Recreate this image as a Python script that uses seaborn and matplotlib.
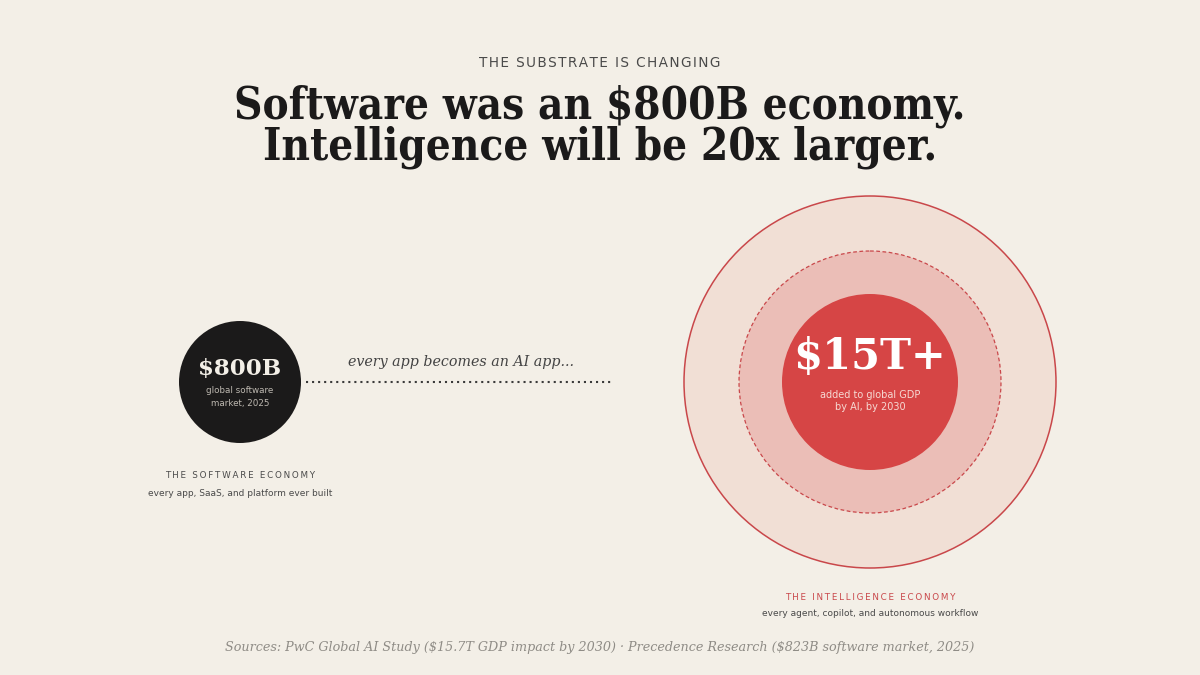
import matplotlib.pyplot as plt
import seaborn as sns
from matplotlib.patches import Circle

# values shown on the chart
economies = ["software", "intelligence"]
headline_values = ["$800B", "$15T+"]
value_notes = ["global software\nmarket, 2025", "added to global GDP\nby AI, by 2030"]
economy_labels = ["THE SOFTWARE ECONOMY", "THE INTELLIGENCE ECONOMY"]
economy_subs = ["every app, SaaS, and platform ever built",
                "every agent, copilot, and autonomous workflow"]
kicker = "THE SUBSTRATE IS CHANGING"
title_lines = ["Software was an $800B economy.", "Intelligence will be 20x larger."]
bridge_text = "every app becomes an AI app..."
source_text = ("Sources: PwC Global AI Study ($15.7T GDP impact by 2030) \u00b7 "
               "Precedence Research ($823B software market, 2025)")

BG = "#F3EFE7"
INK = "#1B1A1A"
RED = "#D64545"
RED_LINE = "#C9474A"

sns.set_theme(style="white")
plt.rcParams["font.family"] = ["DejaVu Sans"]
plt.rcParams["text.parse_math"] = False

fig = plt.figure(figsize=(12, 6.75), dpi=100, facecolor=BG)
ax = fig.add_axes([0, 0, 1, 1])
ax.set_facecolor(BG)
ax.set_xlim(0, 1200)
ax.set_ylim(675, 0)
ax.set_aspect("equal")
ax.axis("off")


def spaced(s, sep="\u2009"):
    return sep.join(s)


# header
ax.text(600, 63, spaced(kicker, "\u200a"), ha="center", va="center", fontsize=9.8,
        color="#4a4a4a")
for i, line in enumerate(title_lines):
    ax.text(600, 106 + 41 * i, line, ha="center", va="center", fontsize=31.5,
            fontweight="bold", family="DejaVu Serif", fontstretch="condensed",
            color=INK)

# left: software economy
lx, ly = 240, 382
ax.add_patch(Circle((lx, ly), 61, facecolor=INK, edgecolor="none"))
ax.text(lx, 369, headline_values[0], ha="center", va="center", fontsize=16.5,
        fontweight="bold", family="DejaVu Serif", color="#F3EFE7")
ax.text(lx, 397, value_notes[0], ha="center", va="center", fontsize=6.3,
        color="#BDB8B0", linespacing=1.45)
ax.text(lx, 475, spaced(economy_labels[0]), ha="center", va="center", fontsize=6.35,
        color="#4a4a4a")
ax.text(lx, 493, economy_subs[0], ha="center", va="center", fontsize=6.5,
        color="#4a4a4a")

# bridge
ax.plot([306, 614], [382, 382], linestyle=(0, (1, 1.9)), color="#3a3a3a", lw=1.5)
ax.text(461, 362, bridge_text, ha="center", va="center", fontsize=10.3,
        style="italic", family="DejaVu Serif", color="#444444")

# right: intelligence economy
rx, ry = 870, 382
ax.add_patch(Circle((rx, ry), 186, facecolor="#F1DFD5", edgecolor=RED_LINE, lw=1.1))
ax.add_patch(Circle((rx, ry), 131, facecolor="#EBBEB7", edgecolor=RED_LINE, lw=0.9,
                    linestyle=(0, (3, 2))))
ax.add_patch(Circle((rx, ry), 88, facecolor=RED, edgecolor="none"))
ax.text(rx, 357, headline_values[1], ha="center", va="center", fontsize=30,
        fontweight="bold", family="DejaVu Serif", color="white")
ax.text(rx, 401, value_notes[1], ha="center", va="center", fontsize=7,
        color="#F6D9D3", linespacing=1.35)
ax.text(rx, 597, spaced(economy_labels[1]), ha="center", va="center", fontsize=6.35,
        color=RED_LINE)
ax.text(rx, 614, economy_subs[1], ha="center", va="center", fontsize=6.5,
        color="#4a4a4a")

# footer
ax.text(600, 647, source_text, ha="center", va="center", fontsize=9.2,
        style="italic", family="DejaVu Serif", color="#8f8c86")

fig.savefig("out.png", dpi=100, facecolor=BG)
